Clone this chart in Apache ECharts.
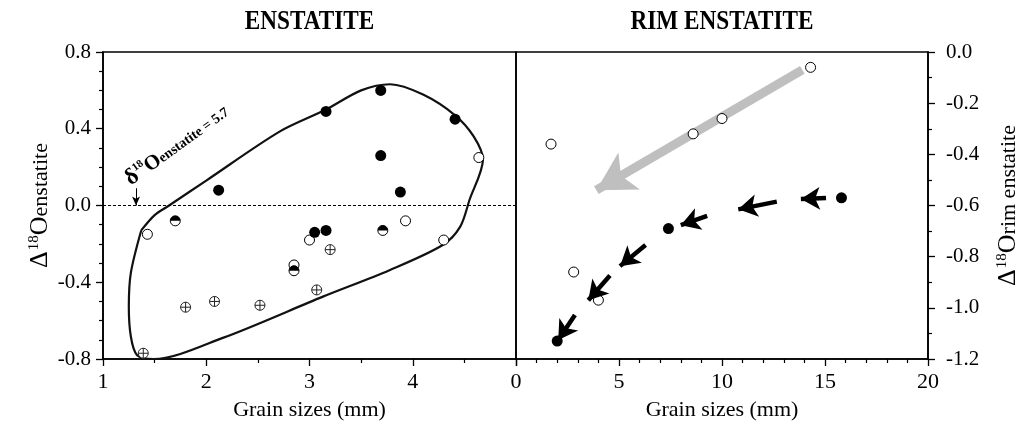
<!DOCTYPE html>
<html><head><meta charset="utf-8">
<script src="https://cdn.jsdelivr.net/npm/echarts@6/dist/echarts.min.js"></script>
<style>html,body{margin:0;padding:0;background:#fff}#c{width:1034px;height:432px}</style>
</head><body><div id="c"></div>
<script>
// ---------- data ----------
const leftXTicks = [1, 2, 3, 4, 5];
const rightXTicks = [0, 5, 10, 15, 20];
const leftFilled = [[2.12,0.08],[3.16,0.49],[3.69,0.60],[4.41,0.45],[3.69,0.26],[3.88,0.07],[3.05,-0.14],[3.16,-0.13]];
const leftHalf   = [[1.70,-0.08],[3.71,-0.13],[2.85,-0.34]];
const leftOpen   = [[1.43,-0.15],[3.00,-0.18],[3.93,-0.08],[4.30,-0.18],[4.64,0.25],[2.85,-0.31]];
const leftCross  = [[1.39,-0.77],[1.80,-0.53],[2.08,-0.50],[2.52,-0.52],[3.07,-0.44],[3.20,-0.23]];
const envelope = [[1.37,-0.13],[1.50,-0.05],[1.64,0.00],[2.00,0.13],[2.71,0.385],[3.16,0.50],[3.50,0.60],[3.78,0.632],
  [4.10,0.578],[4.41,0.47],[4.59,0.36],[4.68,0.24],[4.55,0.03],[4.46,-0.11],[4.29,-0.206],[3.78,-0.336],[3.13,-0.475],
  [2.16,-0.69],[1.49,-0.80],[1.33,-0.78],[1.27,-0.684],[1.25,-0.527],[1.27,-0.35],[1.37,-0.13]];
const refValue = 0;            // delta18O enstatite = 5.7 reference
const refArrow = [[1.32,0.09],[1.32,0.0]];
const rimOpen   = [[14.3,-0.06],[10.0,-0.26],[8.6,-0.32],[1.7,-0.36],[2.8,-0.86],[4.0,-0.97]];
const rimFilled = [[15.8,-0.57],[7.4,-0.69],[2.0,-1.13]];
const trendArrow = [[13.9,-0.07],[3.9,-0.54]];
const rimArrows = [
  [[15.05,-0.571],[13.83,-0.575]],
  [[12.66,-0.585],[10.79,-0.615]],
  [[9.28,-0.641],[8.0,-0.677]],
  [[6.29,-0.754],[5.05,-0.837]],
  [[4.56,-0.874],[3.51,-0.970]],
  [[2.86,-1.028],[2.05,-1.126]]
];

// ---------- chart ----------
const FONT = 'Liberation Serif';
const chart = echarts.init(document.getElementById('c'), null, {renderer: 'canvas'});
const fmt1 = v => (Math.abs(v) < 1e-9 ? '0.0' : v.toFixed(1));
const axisCommon = {
  axisLine: {show: true, onZero: false, lineStyle: {color: '#000', width: 1.6}},
  axisTick: {show: true, length: 7, lineStyle: {color: '#000', width: 1.3}},
  minorTick: {show: true, length: 4, lineStyle: {color: '#000', width: 1.2}},
  splitLine: {show: false},
  axisLabel: {color: '#000', fontFamily: FONT, fontSize: 21}
};
const HALF = 'path://M0,10A10,10,0,0,1,20,10Z';
const CROSS = 'path://M0,10A10,10,0,1,1,20,10A10,10,0,1,1,0,10ZM10,0L10,20M0,10L20,10';
const SZ = 10;
const arrowPair = (a, size) => [
  {coord: a[0], symbol: 'none'},
  {coord: a[1], symbol: 'arrow', symbolSize: size}
];

const option = {
  animation: false,
  backgroundColor: '#fff',
  grid: [
    {left: 103, top: 52, width: 413, height: 307, show: true, borderColor: '#000', borderWidth: 1.6, backgroundColor: 'transparent'},
    {left: 516, top: 52, width: 412, height: 307, show: true, borderColor: '#000', borderWidth: 1.6, backgroundColor: 'transparent'}
  ],
  xAxis: [
    Object.assign({}, axisCommon, {
      type: 'value', gridIndex: 0, min: leftXTicks[0], max: leftXTicks[leftXTicks.length-1], interval: 1,
      minorTick: Object.assign({}, axisCommon.minorTick, {splitNumber: 2}),
      axisLabel: Object.assign({}, axisCommon.axisLabel, {fontSize: 22, margin: 12, formatter: v => (v === 5 ? '' : String(v))}),
      name: 'Grain sizes (mm)', nameLocation: 'middle', nameGap: 40,
      nameTextStyle: {color: '#000', fontFamily: FONT, fontSize: 22}
    }),
    Object.assign({}, axisCommon, {
      type: 'value', gridIndex: 1, min: rightXTicks[0], max: rightXTicks[rightXTicks.length-1], interval: 5,
      minorTick: Object.assign({}, axisCommon.minorTick, {splitNumber: 5}),
      axisLabel: Object.assign({}, axisCommon.axisLabel, {fontSize: 22, margin: 12}),
      name: 'Grain sizes (mm)', nameLocation: 'middle', nameGap: 40,
      nameTextStyle: {color: '#000', fontFamily: FONT, fontSize: 22}
    })
  ],
  yAxis: [
    Object.assign({}, axisCommon, {
      type: 'value', gridIndex: 0, min: -0.8, max: 0.8, interval: 0.4,
      minorTick: Object.assign({}, axisCommon.minorTick, {splitNumber: 4}),
      axisLabel: Object.assign({}, axisCommon.axisLabel, {margin: 12, formatter: fmt1})
    }),
    Object.assign({}, axisCommon, {
      type: 'value', gridIndex: 1, position: 'right', min: -1.2, max: 0, interval: 0.2,
      minorTick: Object.assign({}, axisCommon.minorTick, {splitNumber: 2}),
      axisLabel: Object.assign({}, axisCommon.axisLabel, {margin: 18, formatter: fmt1})
    })
  ],
  series: [
    {
      type: 'line', xAxisIndex: 0, yAxisIndex: 0, data: envelope, smooth: 0.3, showSymbol: false, symbol: 'none',
      lineStyle: {color: '#111', width: 2.2}, silent: true, z: 2,
      markLine: {
        silent: true, symbol: ['none', 'none'], label: {show: false},
        lineStyle: {color: '#000', width: 1, type: [3, 2]},
        data: [{yAxis: refValue}]
      }
    },
    {
      type: 'line', xAxisIndex: 0, yAxisIndex: 0, data: [], silent: true, z: 3,
      markLine: {
        silent: true, label: {show: false},
        lineStyle: {color: '#000', width: 1, type: 'solid'},
        data: [arrowPair(refArrow, [6, 9])]
      }
    },
    {type: 'scatter', xAxisIndex: 0, yAxisIndex: 0, data: leftOpen, symbol: 'circle', symbolSize: SZ,
      itemStyle: {color: '#fff', borderColor: '#000', borderWidth: 1, opacity: 1}, z: 4},
    {type: 'scatter', xAxisIndex: 0, yAxisIndex: 0, data: leftHalf, symbol: 'circle', symbolSize: SZ,
      itemStyle: {color: '#fff', borderColor: '#000', borderWidth: 1, opacity: 1}, z: 4},
    {type: 'scatter', xAxisIndex: 0, yAxisIndex: 0, data: leftHalf, symbol: HALF, symbolSize: [SZ, SZ/2], symbolOffset: [0, -SZ/4],
      itemStyle: {color: '#000', opacity: 1}, z: 5},
    {type: 'scatter', xAxisIndex: 0, yAxisIndex: 0, data: leftCross, symbol: CROSS, symbolSize: SZ,
      itemStyle: {color: '#fff', borderColor: '#222', borderWidth: 1, opacity: 1}, z: 4},
    {type: 'scatter', xAxisIndex: 0, yAxisIndex: 0, data: leftFilled, symbol: 'circle', symbolSize: SZ + 1,
      itemStyle: {color: '#000', opacity: 1}, z: 5},
    // right panel
    {
      type: 'scatter', xAxisIndex: 1, yAxisIndex: 1, data: rimOpen, symbol: 'circle', symbolSize: SZ,
      itemStyle: {color: '#fff', borderColor: '#000', borderWidth: 1, opacity: 1}, z: 6,
      markLine: {
        silent: true, label: {show: false},
        lineStyle: {color: '#bfbfbf', width: 9, type: 'solid', opacity: 1},
        itemStyle: {color: '#bfbfbf'},
        data: [arrowPair(trendArrow, [32, 38])],
        z: 3
      }
    },
    {
      type: 'scatter', xAxisIndex: 1, yAxisIndex: 1, data: rimFilled, symbol: 'circle', symbolSize: SZ + 1,
      itemStyle: {color: '#000', opacity: 1}, z: 6,
      markLine: {
        silent: true, label: {show: false},
        lineStyle: {color: '#000', width: 4.5, type: 'solid', opacity: 1},
        data: rimArrows.map(a => arrowPair(a, [17, 19])),
        z: 8
      }
    }
  ]
};
chart.setOption(option);

// ---------- text annotations ----------
const p0 = chart.convertToPixel({gridIndex: 0}, [3, 0]);
const p1 = chart.convertToPixel({gridIndex: 1}, [10, -0.6]);
const ann = chart.convertToPixel({gridIndex: 0}, [1.30, 0.08]);
const supRich = {
  big: {fontFamily: FONT, fontSize: 26, color: '#000', verticalAlign: 'bottom'},
  sup: {fontFamily: FONT, fontSize: 15, color: '#000', verticalAlign: 'top', padding: [0, 0, 0, 1]},
  sm: {fontFamily: FONT, fontSize: 22, color: '#000', verticalAlign: 'bottom', padding: [0, 0, 1, 0]}
};
chart.setOption({
  graphic: [
    {type: 'text', x: p0[0], y: 22, scaleX: 0.83, silent: true,
      style: {text: 'ENSTATITE', x: 0, y: 0, align: 'center', verticalAlign: 'middle', fill: '#000',
        font: 'bold 28px "Liberation Serif"'}},
    {type: 'text', x: p1[0], y: 22, scaleX: 0.83, silent: true,
      style: {text: 'RIM ENSTATITE', x: 0, y: 0, align: 'center', verticalAlign: 'middle', fill: '#000',
        font: 'bold 28px "Liberation Serif"'}},
    {type: 'text', x: 40, y: p0[1], rotation: Math.PI / 2, silent: true,
      style: {text: '{big|Δ}{sup|18}{big|O}{sm|enstatite}', rich: supRich, align: 'center', verticalAlign: 'middle'}},
    {type: 'text', x: 1008, y: p0[1], rotation: Math.PI / 2, silent: true,
      style: {text: '{big|Δ}{sup|18}{big|O}{sm|rim enstatite}', rich: supRich, align: 'center', verticalAlign: 'middle'}},
    {type: 'text', x: ann[0], y: ann[1], rotation: 36 * Math.PI / 180, silent: true,
      style: {text: '{d|δ}{s|18}{o|O}{t|enstatite = 5.7}', align: 'left', verticalAlign: 'bottom',
        rich: {
          d: {fontFamily: FONT, fontSize: 23, fontWeight: 'bold', color: '#000', verticalAlign: 'bottom'},
          s: {fontFamily: FONT, fontSize: 11, fontWeight: 'bold', color: '#000', verticalAlign: 'top'},
          o: {fontFamily: FONT, fontSize: 21, fontWeight: 'bold', color: '#000', verticalAlign: 'bottom'},
          t: {fontFamily: FONT, fontSize: 14, fontWeight: 'bold', color: '#000', verticalAlign: 'bottom', padding: [0, 0, 2, 0]}
        }}}
  ]
});
</script></body></html>
